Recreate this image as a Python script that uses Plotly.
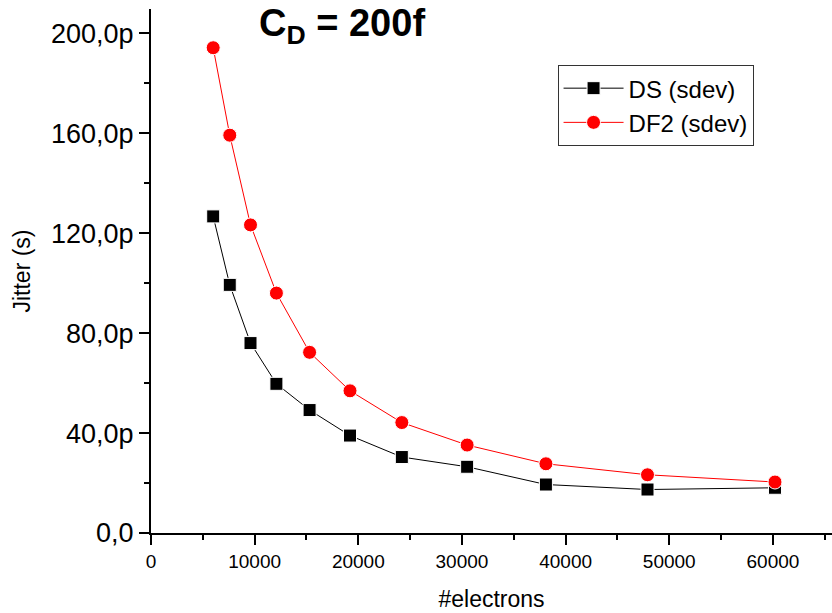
import plotly.graph_objects as go

# data (jitter in ps)
electrons = [6000, 7600, 9600, 12100, 15300, 19200, 24200, 30500, 38100, 47900, 60200]
ds_sdev = [126.7, 99.3, 76.0, 59.7, 49.2, 39.0, 30.4, 26.5, 19.4, 17.4, 18.1]
df2_sdev = [194.2, 159.2, 123.3, 96.0, 72.3, 56.9, 44.2, 35.2, 27.7, 23.3, 20.4]

y_tickvals = [0, 40, 80, 120, 160, 200]
y_ticktext = ["0,0", "40,0p", "80,0p", "120,0p", "160,0p", "200,0p"]
x_tickvals = [0, 10000, 20000, 30000, 40000, 50000, 60000]
x_ticktext = ["0", "10000", "20000", "30000", "40000", "50000", "60000"]

font_family = "Liberation Sans, Arial, sans-serif"

fig = go.Figure()
fig.add_trace(go.Scatter(
    x=electrons, y=ds_sdev, mode="lines+markers", name="DS (sdev)",
    line=dict(color="black", width=1),
    marker=dict(symbol="square", size=13, color="black", line=dict(color="white", width=1)),
))
fig.add_trace(go.Scatter(
    x=electrons, y=df2_sdev, mode="lines+markers", name="DF2 (sdev)",
    line=dict(color="red", width=1),
    marker=dict(symbol="circle", size=14, color="red", line=dict(color="white", width=1)),
))

fig.update_layout(
    width=832, height=613,
    margin=dict(l=151, r=0, t=9, b=80),
    plot_bgcolor="white", paper_bgcolor="white",
    font=dict(family=font_family, color="black"),
    showlegend=True,
    legend=dict(
        x=0.597, y=0.893, xanchor="left", yanchor="top",
        bgcolor="white", bordercolor="#333333", borderwidth=1,
        font=dict(size=24, family=font_family),
        tracegroupgap=0, itemwidth=60,
    ),
    annotations=[dict(
        text="<b>C<sub>D</sub> = 200f</b>", x=0.281, y=0.968,
        xref="paper", yref="paper", xanchor="center", yanchor="middle",
        showarrow=False, font=dict(size=38, family=font_family, color="black"),
    )],
)

fig.update_xaxes(
    range=[0, 65700], showgrid=False, zeroline=False,
    showline=True, linecolor="black", linewidth=2,
    ticks="outside", ticklen=10, tickwidth=2, tickcolor="black",
    tickvals=x_tickvals, ticktext=x_ticktext,
    tickfont=dict(size=19, family=font_family),
    minor=dict(ticks="outside", ticklen=5, tickwidth=2, tickcolor="black", dtick=5000, tick0=0, showgrid=False),
    title=dict(text="#electrons", font=dict(size=23, family=font_family), standoff=20),
)
fig.update_yaxes(
    range=[0, 209.7], showgrid=False, zeroline=False,
    showline=True, linecolor="black", linewidth=2,
    ticks="outside", ticklen=10, tickwidth=2, tickcolor="black",
    tickvals=y_tickvals, ticktext=y_ticktext,
    tickfont=dict(size=27, family=font_family),
    minor=dict(ticks="outside", ticklen=5, tickwidth=2, tickcolor="black", dtick=20, tick0=0, showgrid=False),
    title=dict(text="Jitter (s)", font=dict(size=23, family=font_family), standoff=14),
)

fig.write_html("out.html")
